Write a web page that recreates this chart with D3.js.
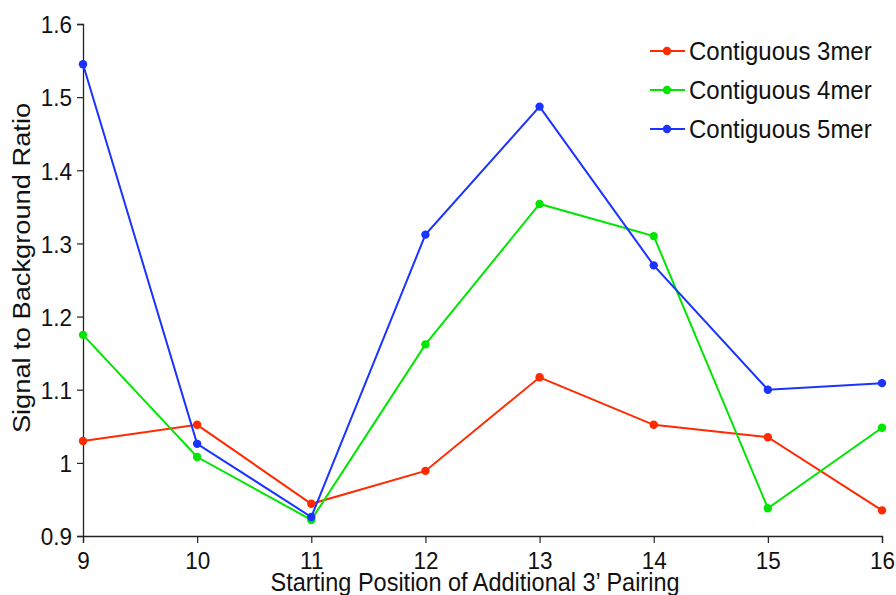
<!DOCTYPE html>
<head>
  <meta charset="utf-8">
  <script src="https://d3js.org/d3.v7.min.js"></script>
  <style>
    body { margin: 0; background: #fff; }
    * { font-family: "Liberation Sans", Arial, sans-serif; }
  </style>
</head>
<body>
  <svg width="896" height="595"></svg>
  <script>
    const positions = [9, 10, 11, 12, 13, 14, 15, 16];
    const mer3 = [1.030, 1.052, 0.944, 0.989, 1.117, 1.052, 1.035, 0.935];
    const mer4 = [1.175, 1.008, 0.922, 1.162, 1.354, 1.310, 0.938, 1.048];
    const mer5 = [1.545, 1.026, 0.926, 1.312, 1.487, 1.270, 1.100, 1.109];
    const seriesNames = ["Contiguous 3mer", "Contiguous 4mer", "Contiguous 5mer"];
    const seriesColors = ["#ff2a00", "#00e600", "#1a33ff"];
    const yTicks = [0.9, 1, 1.1, 1.2, 1.3, 1.4, 1.5, 1.6];

    // the reference glyphs look a bit taller than wide
    const stretch = 1.1;

    const series = [mer3, mer4, mer5].map((vals, i) => ({
      name: seriesNames[i], color: seriesColors[i],
      points: vals.map((v, j) => ({ x: positions[j], y: v }))
    }));

    const svg = d3.select("svg");
    const x = d3.scaleLinear().domain([9, 16]).range([83, 882]);
    const y = d3.scaleLinear().domain([0.9, 1.6]).range([536, 24]);

    const yAxis = svg.append("g")
      .attr("transform", "translate(83,0)")
      .call(d3.axisLeft(y).tickValues(yTicks).tickSize(6).tickPadding(5)
        .tickFormat(d => d === 1 ? "1" : d3.format(".1f")(d)));
    const xAxis = svg.append("g")
      .attr("transform", "translate(0,536)")
      .call(d3.axisBottom(x).tickValues(positions).tickSize(7).tickPadding(9).tickFormat(d3.format("d")));
    [xAxis, yAxis].forEach(a => {
      a.select(".domain").attr("stroke", "#222").attr("stroke-width", 1.3);
      a.selectAll(".tick line").attr("stroke", "#222").attr("stroke-width", 1.2);
      a.selectAll("text").attr("font-size", 22.5).attr("fill", "#111");
    });
    yAxis.selectAll(".tick text")
      .attr("dy", null)
      .attr("y", 8)
      .attr("transform", `scale(1,${stretch})`);
    xAxis.selectAll(".tick text")
      .attr("dy", null)
      .attr("y", 0)
      .attr("transform", `translate(0,33) scale(1,${stretch})`);

    svg.append("text")
      .attr("transform", `translate(475,591) scale(1,${stretch})`)
      .attr("text-anchor", "middle").attr("font-size", 23.5).attr("fill", "#111")
      .text("Starting Position of Additional 3\u2019 Pairing");
    svg.append("text")
      .attr("transform", "translate(30,268) scale(1,1.16) rotate(-90)")
      .attr("text-anchor", "middle").attr("font-size", 23.5).attr("fill", "#111")
      .text("Signal to Background Ratio");

    const line = d3.line().x(d => x(d.x)).y(d => y(d.y));
    const g = svg.append("g");
    series.forEach(s => {
      g.append("path").datum(s.points)
        .attr("fill", "none").attr("stroke", s.color).attr("stroke-width", 2)
        .attr("d", line);
      g.selectAll(null).data(s.points).join("circle")
        .attr("cx", d => x(d.x)).attr("cy", d => y(d.y)).attr("r", 4.2)
        .attr("fill", s.color);
    });

    const legend = svg.append("g");
    series.forEach((s, i) => {
      const ly = 51 + i * 39;
      legend.append("line").attr("x1", 650).attr("x2", 685).attr("y1", ly).attr("y2", ly)
        .attr("stroke", s.color).attr("stroke-width", 2);
      legend.append("circle").attr("cx", 667).attr("cy", ly).attr("r", 4.2).attr("fill", s.color);
      legend.append("text")
        .attr("transform", `translate(689,${ly + 9}) scale(1,${stretch})`)
        .attr("font-size", 24).attr("fill", "#111").text(s.name);
    });
  </script>
</body>
